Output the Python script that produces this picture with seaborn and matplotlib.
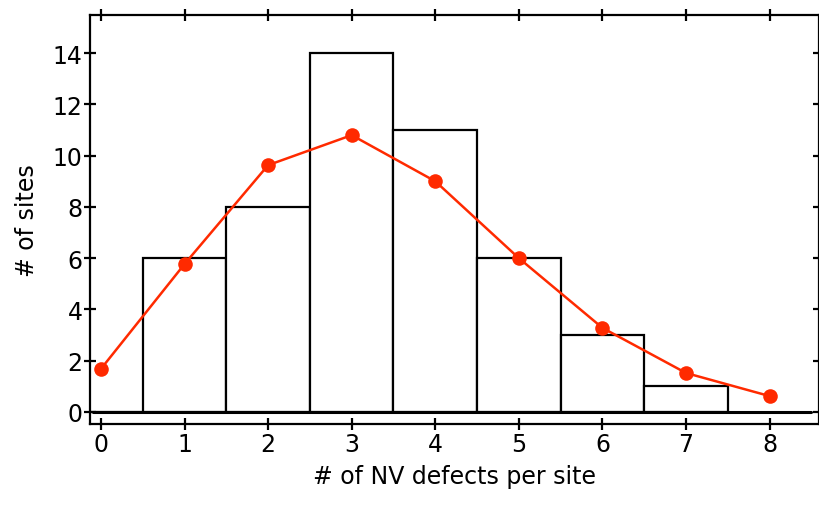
import matplotlib
matplotlib.use("Agg")
import matplotlib.pyplot as plt
import seaborn as sns
import pandas as pd

bins = [0, 1, 2, 3, 4, 5, 6, 7]
counts = [0, 6, 8, 14, 11, 6, 3, 1]
fit_x = [0, 1, 2, 3, 4, 5, 6, 7, 8]
fit_y = [1.68, 5.77, 9.63, 10.8, 9.0, 6.0, 3.28, 1.52, 0.62]
x_ticks = [0, 1, 2, 3, 4, 5, 6, 7, 8]
y_ticks = [0, 2, 4, 6, 8, 10, 12, 14]

sns.set_style("ticks")
plt.rcParams['font.family'] = ['DejaVu Sans']
plt.rcParams['text.color'] = 'black'
plt.rcParams['axes.labelcolor'] = 'black'
plt.rcParams['xtick.color'] = 'black'
plt.rcParams['ytick.color'] = 'black'

fig = plt.figure(figsize=(8.2, 5.06), dpi=100)
ax = fig.add_axes([0.1098, 0.160, 0.889, 0.808])

hist_df = pd.DataFrame({"n": bins, "count": counts})
sns.barplot(data=hist_df, x="n", y="count", native_scale=True, width=1.0,
            color="white", edgecolor="black", linewidth=1.6, ax=ax, zorder=2)
for p in ax.patches:
    p.set_facecolor("white")

ax.axhline(0, xmin=0.004, xmax=0.989, color="black", lw=2.2, zorder=3)

fit_df = pd.DataFrame({"n": fit_x, "p": fit_y})
sns.lineplot(data=fit_df, x="n", y="p", color="#FF2A00", lw=1.8, marker="o",
             markersize=10.5, markeredgewidth=0, ax=ax, zorder=4)

ax.set_xlim(-0.13, 8.59)
ax.set_ylim(-0.47, 15.48)
ax.set_xticks(x_ticks)
ax.set_yticks(y_ticks)
ax.set_xticklabels([str(v) for v in x_ticks])
ax.set_yticklabels([str(v) for v in y_ticks])
ax.tick_params(direction="inout", length=9, width=1.6, labelsize=17,
               top=True, right=True, color="black", labelcolor="black", pad=1)
for s in ax.spines.values():
    s.set_linewidth(1.6)
    s.set_color("black")
ax.set_xlabel("# of NV defects per site", fontsize=17, labelpad=6, color="black")
ax.set_ylabel("# of sites", fontsize=17, labelpad=10, color="black")

fig.savefig("out.png", dpi=100)
